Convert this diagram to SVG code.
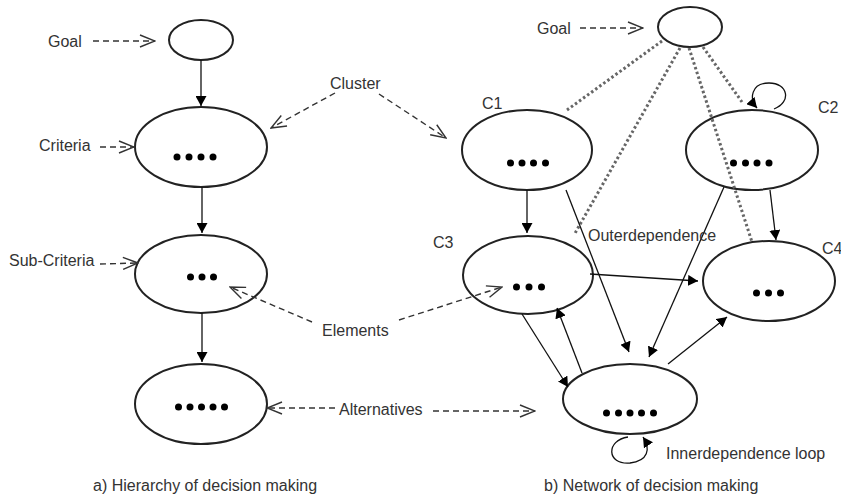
<svg xmlns="http://www.w3.org/2000/svg" width="841" height="496" viewBox="0 0 841 496">
<style>
.node{fill:#fff;stroke:#222;stroke-width:2}
.dot{fill:#000}
.lbl{font-family:"Liberation Sans",Arial,sans-serif;font-size:16px;fill:#333}
.solid{stroke:#111;stroke-width:1.3;fill:none;marker-end:url(#fa)}
.dash{stroke:#333;stroke-width:1.4;fill:none;stroke-dasharray:6 4;marker-end:url(#oa)}
.dotted{stroke:#666;stroke-width:3;fill:none;stroke-dasharray:2.5 2.5}
</style>
<defs>
<marker id="fa" viewBox="0 0 10 11" refX="10" refY="5.5" markerWidth="10" markerHeight="11" markerUnits="userSpaceOnUse" orient="auto"><path d="M0,0 L10,5.5 L0,11 z" fill="#000"/></marker>
<marker id="oa" viewBox="-1 -1 17 14" refX="15" refY="6" markerWidth="17" markerHeight="14" markerUnits="userSpaceOnUse" orient="auto"><path d="M0,0 L15,6 L0,12" fill="none" stroke="#333" stroke-width="1.4"/></marker>
</defs>
<rect width="841" height="496" fill="#fff"/>

<g id="h-goal"><ellipse class="node" cx="201" cy="40" rx="32" ry="20"/></g>
<g id="h-criteria"><ellipse class="node" cx="201" cy="147" rx="66" ry="40"/>
<circle class="dot" cx="177" cy="157" r="3.5"/><circle class="dot" cx="189" cy="157" r="3.5"/><circle class="dot" cx="201" cy="157" r="3.5"/><circle class="dot" cx="213" cy="157" r="3.5"/></g>
<g id="h-subcriteria"><ellipse class="node" cx="201" cy="274" rx="66" ry="39"/>
<circle class="dot" cx="190.5" cy="277" r="3.5"/><circle class="dot" cx="202" cy="277" r="3.5"/><circle class="dot" cx="213.5" cy="277" r="3.5"/></g>
<g id="h-alternatives"><ellipse class="node" cx="201" cy="404" rx="66" ry="40"/>
<circle class="dot" cx="178.5" cy="407" r="3.5"/><circle class="dot" cx="190" cy="407" r="3.5"/><circle class="dot" cx="201.5" cy="407" r="3.5"/><circle class="dot" cx="213" cy="407" r="3.5"/><circle class="dot" cx="224.5" cy="407" r="3.5"/></g>

<g id="n-goal"><ellipse class="node" cx="690" cy="27" rx="32" ry="20"/></g>
<g id="n-c1"><ellipse class="node" cx="527" cy="150" rx="65" ry="40"/>
<circle class="dot" cx="510.5" cy="163" r="3.5"/><circle class="dot" cx="522" cy="163" r="3.5"/><circle class="dot" cx="533.5" cy="163" r="3.5"/><circle class="dot" cx="545.5" cy="163" r="3.5"/>
<text class="lbl" x="482" y="109">C1</text></g>
<g id="n-c2"><ellipse class="node" cx="752" cy="150" rx="66" ry="40"/>
<circle class="dot" cx="733.5" cy="163" r="3.5"/><circle class="dot" cx="745.5" cy="163" r="3.5"/><circle class="dot" cx="757" cy="163" r="3.5"/><circle class="dot" cx="769" cy="163" r="3.5"/>
<text class="lbl" x="818" y="113">C2</text></g>
<g id="n-c3"><ellipse class="node" cx="528" cy="275" rx="65" ry="39"/>
<circle class="dot" cx="516.5" cy="287" r="3.5"/><circle class="dot" cx="529" cy="287" r="3.5"/><circle class="dot" cx="541.5" cy="287" r="3.5"/>
<text class="lbl" x="433" y="248">C3</text></g>
<g id="n-c4"><ellipse class="node" cx="769" cy="281" rx="66" ry="40"/>
<circle class="dot" cx="756.5" cy="293" r="3.5"/><circle class="dot" cx="768.5" cy="293" r="3.5"/><circle class="dot" cx="780.5" cy="293" r="3.5"/>
<text class="lbl" x="822" y="254">C4</text></g>
<g id="n-alternatives"><ellipse class="node" cx="630" cy="399" rx="67" ry="35"/>
<circle class="dot" cx="606.5" cy="413" r="3.5"/><circle class="dot" cx="618.5" cy="413" r="3.5"/><circle class="dot" cx="630" cy="413" r="3.5"/><circle class="dot" cx="641.5" cy="413" r="3.5"/><circle class="dot" cx="653.5" cy="413" r="3.5"/></g>

<g id="connectors">
<!-- left hierarchy -->
<line class="solid" x1="201" y1="60" x2="201" y2="106"/>
<line class="solid" x1="202" y1="187" x2="202" y2="233"/>
<line class="solid" x1="202" y1="313" x2="202" y2="362"/>
<!-- right dotted -->
<line class="dotted" x1="662" y1="41" x2="567" y2="110"/>
<line class="dotted" x1="680" y1="48" x2="574" y2="235"/>
<line class="dotted" x1="689" y1="48" x2="752" y2="242"/>
<line class="dotted" x1="703" y1="47" x2="742" y2="102"/>
<!-- right solid -->
<line class="solid" x1="527" y1="190" x2="527" y2="233"/>
<line class="solid" x1="566" y1="190" x2="629" y2="352"/>
<line class="solid" x1="724" y1="187" x2="649" y2="357"/>
<line class="solid" x1="770" y1="190" x2="776" y2="240"/>
<line class="solid" x1="590" y1="274" x2="698" y2="281"/>
<line class="solid" x1="522" y1="314" x2="568" y2="387"/>
<line class="solid" x1="582" y1="373" x2="557" y2="308"/>
<line class="solid" x1="668" y1="364" x2="727" y2="317"/>
<path class="solid" d="M774 109 C792 102 788 83 769 83 C751 83 749 99 757 108"/>
<path class="solid" d="M628 437 C606 440 606 465 630 463 C648 461 651 449 643 437"/>
<!-- dashed annotation arrows -->
<line class="dash" x1="93" y1="41" x2="155" y2="41"/>
<line class="dash" x1="100" y1="147" x2="134" y2="147"/>
<line class="dash" x1="100" y1="264" x2="138" y2="263"/>
<line class="dash" x1="335" y1="93" x2="271" y2="128"/>
<line class="dash" x1="379" y1="94" x2="446" y2="138"/>
<line class="dash" x1="312" y1="322" x2="230" y2="287"/>
<line class="dash" x1="399" y1="320" x2="502" y2="287"/>
<line class="dash" x1="335" y1="408" x2="267" y2="408"/>
<line class="dash" x1="433" y1="411" x2="535" y2="411"/>
<line class="dash" x1="580" y1="28" x2="643" y2="28"/>
</g>

<g id="labels">
<text class="lbl" x="48" y="47">Goal</text>
<text class="lbl" x="39" y="151">Criteria</text>
<text class="lbl" x="330" y="89">Cluster</text>
<text class="lbl" x="9" y="266">Sub-Criteria</text>
<text class="lbl" x="322" y="336">Elements</text>
<text class="lbl" x="339" y="415">Alternatives</text>
<text class="lbl" x="537" y="34">Goal</text>
<text class="lbl" x="588" y="241">Outerdependence</text>
<text class="lbl" x="666" y="459">Innerdependence loop</text>
<text class="lbl" x="93" y="491">a) Hierarchy of decision making</text>
<text class="lbl" x="544" y="491">b) Network of decision making</text>
</g>
</svg>
